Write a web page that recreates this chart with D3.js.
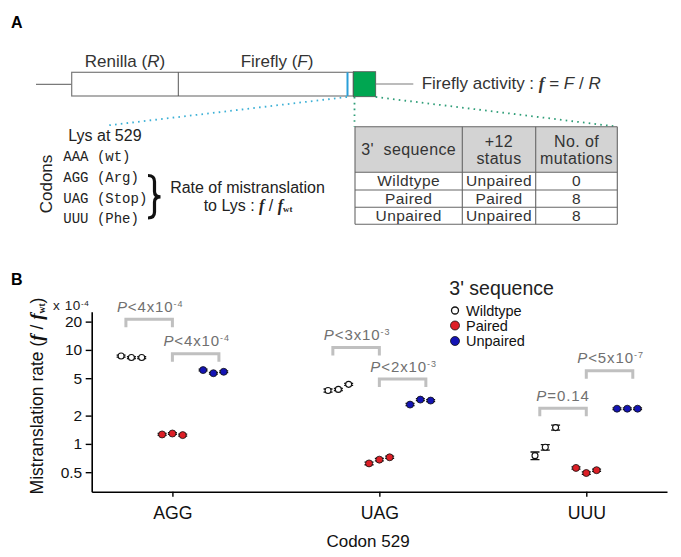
<!DOCTYPE html>
<html><head><meta charset="utf-8">
<script src="https://cdn.jsdelivr.net/npm/d3@7"></script>
<style>body{margin:0;background:#fff}svg{display:block}</style>
</head><body>
<svg id="c" width="681" height="557" font-family='"Liberation Sans",Arial,sans-serif'></svg>
<script>
// ---- data ----
const codons = ["AGG", "UAG", "UUU"];
const seriesNames = ["Wildtype", "Paired", "Unpaired"];
const seriesColors = ["#ffffff", "#dd1f26", "#1414b4"];
const wildtypeVals = [[8.6, 8.3, 8.3], [3.7, 3.8, 4.3], [0.75, 0.92, 1.49]];
const pairedVals   = [[1.26, 1.29, 1.24], [0.62, 0.68, 0.72], [0.555, 0.49, 0.525]];
const unpairedVals = [[6.1, 5.65, 5.85], [2.62, 2.96, 2.89], [2.37, 2.37, 2.37]];
const wildtypeErr  = [[0.2, 0.2, 0.2], [0.14, 0.1, 0.1], [0.07, 0.06, 0.09]];
const pairedErr    = [[0.03, 0.03, 0.03], [0.02, 0.02, 0.02], [0.015, 0.015, 0.015]];
const unpairedErr  = [[0.13, 0.12, 0.12], [0.07, 0.07, 0.07], [0.05, 0.05, 0.05]];
const yTicks = [0.5, 1, 2, 5, 10, 20];
// P-value brackets: [wildtype vs paired, paired vs unpaired] per codon
const pOps   = [["<", "<"], ["<", "<"], ["=", "<"]];
const pMant  = [["4x10", "4x10"], ["3x10", "2x10"], ["0.14", "5x10"]];
const pExp   = [["-4", "-4"], ["-3", "-3"], ["", "-7"]];
const bracketTop = [[21.2, 9.1], [10.6, 4.9], [2.4, 6.0]];
// table
const tableHeader = [["3'  sequence"], ["+12", "status"], ["No. of", "mutations"]];
const tableRows = [["Wildtype", "Unpaired", "0"], ["Paired", "Paired", "8"], ["Unpaired", "Unpaired", "8"]];
const codonLines = ["AAA (wt)", "AGG (Arg)", "UAG (Stop)", "UUU (Phe)"];

const svg = d3.select("#c");
const serif = '"Liberation Serif","Times New Roman",serif';

// ================= Panel A =================
svg.append("text").attr("x", 11).attr("y", 27.5).attr("font-size", 16).attr("font-weight", "bold").text("A");
const gray = "#7a7a7a";
svg.append("line").attr("x1", 36).attr("x2", 72).attr("y1", 84.3).attr("y2", 84.3).attr("stroke", gray).attr("stroke-width", 1.2);
svg.append("rect").attr("x", 71.7).attr("y", 72.3).attr("width", 353.3 - 71.7).attr("height", 96 - 72.3).attr("fill", "#fff").attr("stroke", gray).attr("stroke-width", 1.2);
svg.append("line").attr("x1", 178.3).attr("x2", 178.3).attr("y1", 72.3).attr("y2", 96).attr("stroke", "#555").attr("stroke-width", 1);
svg.append("line").attr("x1", 347.5).attr("x2", 347.5).attr("y1", 72.3).attr("y2", 96).attr("stroke", "#2a9fd8").attr("stroke-width", 2);
svg.append("rect").attr("x", 353.3).attr("y", 71.7).attr("width", 22.4).attr("height", 25).attr("fill", "#00a651").attr("stroke", "#555").attr("stroke-width", 0.8);
svg.append("line").attr("x1", 375.7).attr("x2", 413.3).attr("y1", 84).attr("y2", 84).attr("stroke", gray).attr("stroke-width", 1.2);

function rich(parent, x, y, size, parts, anchor) {
  const t = parent.append("text").attr("x", x).attr("y", y).attr("font-size", size).attr("text-anchor", anchor || "start");
  parts.forEach(p => {
    const s = t.append("tspan").text(p.t);
    if (p.i) s.attr("font-style", "italic");
    if (p.serif) s.attr("font-family", serif).attr("font-weight", "bold");
    if (p.sub) s.attr("font-size", size * 0.55).attr("baseline-shift", "-15%");
    if (p.sup) s.attr("font-size", size * 0.6).attr("baseline-shift", "super");
    if (p.fs) s.attr("font-size", p.fs);
  });
  return t;
}
rich(svg, 125, 67.3, 17, [{t: "Renilla ("}, {t: "R", i: 1}, {t: ")"}], "middle").attr("fill", "#333");
rich(svg, 277, 67.3, 17, [{t: "Firefly ("}, {t: "F", i: 1}, {t: ")"}], "middle").attr("fill", "#333");
rich(svg, 421.7, 89, 17, [{t: "Firefly activity : "}, {t: "f", i: 1, serif: 1}, {t: " = "}, {t: "F", i: 1}, {t: " / "}, {t: "R", i: 1}]).attr("fill", "#333");

// dotted zoom lines
svg.append("line").attr("x1", 347).attr("y1", 97).attr("x2", 107).attr("y2", 125.5)
  .attr("stroke", "#3bb0d6").attr("stroke-width", 1.8).attr("stroke-dasharray", "1.6,4.2");
svg.append("line").attr("x1", 354.5).attr("y1", 97).attr("x2", 354.5).attr("y2", 126.7)
  .attr("stroke", "#2f9e78").attr("stroke-width", 1.8).attr("stroke-dasharray", "1.6,4.2");
svg.append("line").attr("x1", 375.7).attr("y1", 97).attr("x2", 617.3).attr("y2", 126.7)
  .attr("stroke", "#2f9e78").attr("stroke-width", 1.8).attr("stroke-dasharray", "1.6,4.2");

// left text block
svg.append("text").attr("x", 68.3).attr("y", 141).attr("font-size", 16).attr("fill", "#222").text("Lys at 529");
codonLines.forEach((s, i) => {
  svg.append("text").attr("x", 63.3).attr("y", 160.7 + i * 20.9).attr("font-size", 14)
    .attr("font-family", '"Liberation Mono","DejaVu Sans Mono",monospace').attr("fill", "#222")
    .attr("xml:space", "preserve").text(s);
});
svg.append("text").attr("transform", "translate(52,184) rotate(-90)").attr("text-anchor", "middle")
  .attr("font-size", 17).attr("fill", "#222").text("Codons");
svg.append("path").attr("d", "M148,175.5 Q154.5,175.5 154.5,181.5 L154.5,191.5 Q154.5,196.8 160.5,196.8 Q154.5,196.8 154.5,202 L154.5,212 Q154.5,218 148,218")
  .attr("fill", "none").attr("stroke", "#111").attr("stroke-width", 3.2);
svg.append("text").attr("x", 247.5).attr("y", 192.7).attr("font-size", 16).attr("text-anchor", "middle").attr("fill", "#222").text("Rate of mistranslation");
rich(svg, 248, 210.5, 16, [{t: "to Lys : "}, {t: "f", i: 1, serif: 1}, {t: " / "}, {t: "f", i: 1, serif: 1}, {t: "wt", sub: 1, serif: 1}], "middle").attr("fill", "#222");

// table
const tX = [355, 462.3, 535.7, 617.3];
const tY = [126.7, 172.3, 190, 207.3, 224.3];
svg.append("rect").attr("x", tX[0]).attr("y", tY[0]).attr("width", tX[3] - tX[0]).attr("height", tY[1] - tY[0]).attr("fill", "#d3d3d3");
tY.forEach(yy => svg.append("line").attr("x1", tX[0]).attr("x2", tX[3]).attr("y1", yy).attr("y2", yy).attr("stroke", "#666").attr("stroke-width", 1.1));
tX.forEach(xx => svg.append("line").attr("x1", xx).attr("x2", xx).attr("y1", tY[0]).attr("y2", tY[4]).attr("stroke", "#666").attr("stroke-width", 1.1));
const colC = [0, 1, 2].map(i => (tX[i] + tX[i + 1]) / 2);
tableHeader.forEach((lines, i) => {
  lines.forEach((s, j) => {
    const yy = lines.length === 1 ? 154.5 : (j === 0 ? 146.7 : 163.5);
    svg.append("text").attr("x", colC[i]).attr("y", yy).attr("font-size", 16).attr("text-anchor", "middle")
      .attr("fill", "#333").attr("letter-spacing", 0.4).attr("xml:space", "preserve").text(s);
  });
});
tableRows.forEach((row, r) => {
  row.forEach((s, i) => {
    svg.append("text").attr("x", colC[i]).attr("y", 186 + r * 17.6).attr("font-size", 15.5).attr("text-anchor", "middle")
      .attr("fill", "#333").attr("letter-spacing", 0.4).text(s);
  });
});

// ================= Panel B =================
svg.append("text").attr("x", 11).attr("y", 285).attr("font-size", 16).attr("font-weight", "bold").text("B");
const pLeft = 91.7, pRight = 667, pTop = 311.7, pBottom = 491.7;
const x = d3.scalePoint().domain(codons).range([pLeft, pRight]).padding(0.39);
const y = d3.scaleLog().domain([0.31, 25.5]).range([pBottom, pTop]);
const seriesOffset = d3.scalePoint().domain(seriesNames).range([-41, 41]);
const repOffset = d3.scalePoint().domain([0, 1, 2]).range([-10.3, 10.3]);

const yAxis = svg.append("g").attr("transform", `translate(${pLeft},0)`)
  .call(d3.axisLeft(y).tickValues(yTicks).tickFormat(d => String(d)).tickSize(6).tickSizeOuter(0));
yAxis.attr("font-family", '"Liberation Sans",Arial,sans-serif');
yAxis.select(".domain").attr("stroke-width", 1.6);
yAxis.selectAll(".tick line").attr("stroke-width", 1.4);
yAxis.selectAll(".tick text").attr("font-size", 15.5).attr("fill", "#111").attr("x", -9.5);
const xAxis = svg.append("g").attr("transform", `translate(0,${pBottom})`)
  .call(d3.axisBottom(x).tickSize(5).tickSizeOuter(0).tickPadding(10));
xAxis.attr("font-family", '"Liberation Sans",Arial,sans-serif');
xAxis.select(".domain").attr("stroke-width", 1.6);
xAxis.selectAll(".tick line").attr("stroke-width", 1.4);
xAxis.selectAll(".tick text").attr("font-size", 17.7).attr("fill", "#111");

rich(svg, 53, 309.5, 13.5, [{t: "x 10"}, {t: "-4", sup: 1}]).attr("fill", "#222").attr("letter-spacing", 0.6);
svg.append("text").attr("x", 368).attr("y", 547).attr("font-size", 17).attr("text-anchor", "middle").attr("fill", "#111").text("Codon 529");
rich(svg, 0, 0, 17.5, [{t: "Mistranslation rate ("}, {t: "f", i: 1, serif: 1, fs: 19}, {t: " / "}, {t: "f", i: 1, serif: 1, fs: 19}, {t: "wt", sub: 1, serif: 1}, {t: ")"}], "middle")
  .attr("transform", "translate(43,396) rotate(-90)").attr("fill", "#111");

// brackets
const bCol = "#c0c0c0";
codons.forEach((c, ci) => {
  [0, 1].forEach(k => {
    const x1 = k === 0 ? x(c) - 46.5 : x(c);
    const x2 = k === 0 ? x(c) : x(c) + 46.5;
    const yt = y(bracketTop[ci][k]);
    svg.append("path").attr("d", `M${x1},${yt + 8} V${yt} H${x2} V${yt + 8}`)
      .attr("fill", "none").attr("stroke", bCol).attr("stroke-width", 3);
    const parts = [{t: "P", i: 1}, {t: pOps[ci][k] + pMant[ci][k]}];
    if (pExp[ci][k]) parts.push({t: pExp[ci][k], sup: 1});
    rich(svg, (x1 + x2) / 2 + (pExp[ci][k] ? 1 : 0), yt - 7.5, 15, parts, "middle").attr("fill", "#707070").attr("letter-spacing", 0.9);
  });
});

// points
const allVals = [wildtypeVals, pairedVals, unpairedVals];
const allErr = [wildtypeErr, pairedErr, unpairedErr];
seriesNames.forEach((s, si) => {
  codons.forEach((c, ci) => {
    allVals[si][ci].forEach((v, r) => {
      const cx = x(c) + seriesOffset(s) + repOffset(r);
      const e = allErr[si][ci][r];
      const y1 = y(v + e), y2 = y(v - e);
      const cap = 4.5;
      svg.append("path").attr("d", `M${cx},${y1} V${y2} M${cx - cap},${y1} H${cx + cap} M${cx - cap},${y2} H${cx + cap}`)
        .attr("stroke", "#111").attr("stroke-width", 1.3).attr("fill", "none");
      svg.append("circle").attr("cx", cx).attr("cy", y(v)).attr("r", si === 0 ? 3 : 3.5)
        .attr("fill", seriesColors[si]).attr("stroke", "#111").attr("stroke-width", si === 0 ? 1.1 : 0.8);
    });
  });
});

// legend
svg.append("text").attr("x", 449.3).attr("y", 295).attr("font-size", 19.5).attr("fill", "#222").text("3' sequence");
seriesNames.forEach((s, i) => {
  const cy = [310.5, 325.5, 341][i];
  svg.append("circle").attr("cx", 455).attr("cy", cy).attr("r", i === 0 ? 3.5 : 4.5)
    .attr("fill", seriesColors[i]).attr("stroke", "#111").attr("stroke-width", i === 0 ? 1.3 : 0.8);
  svg.append("text").attr("x", 466).attr("y", cy + 5).attr("font-size", 14.5).attr("fill", "#111").text(s);
});
</script>
</body></html>
